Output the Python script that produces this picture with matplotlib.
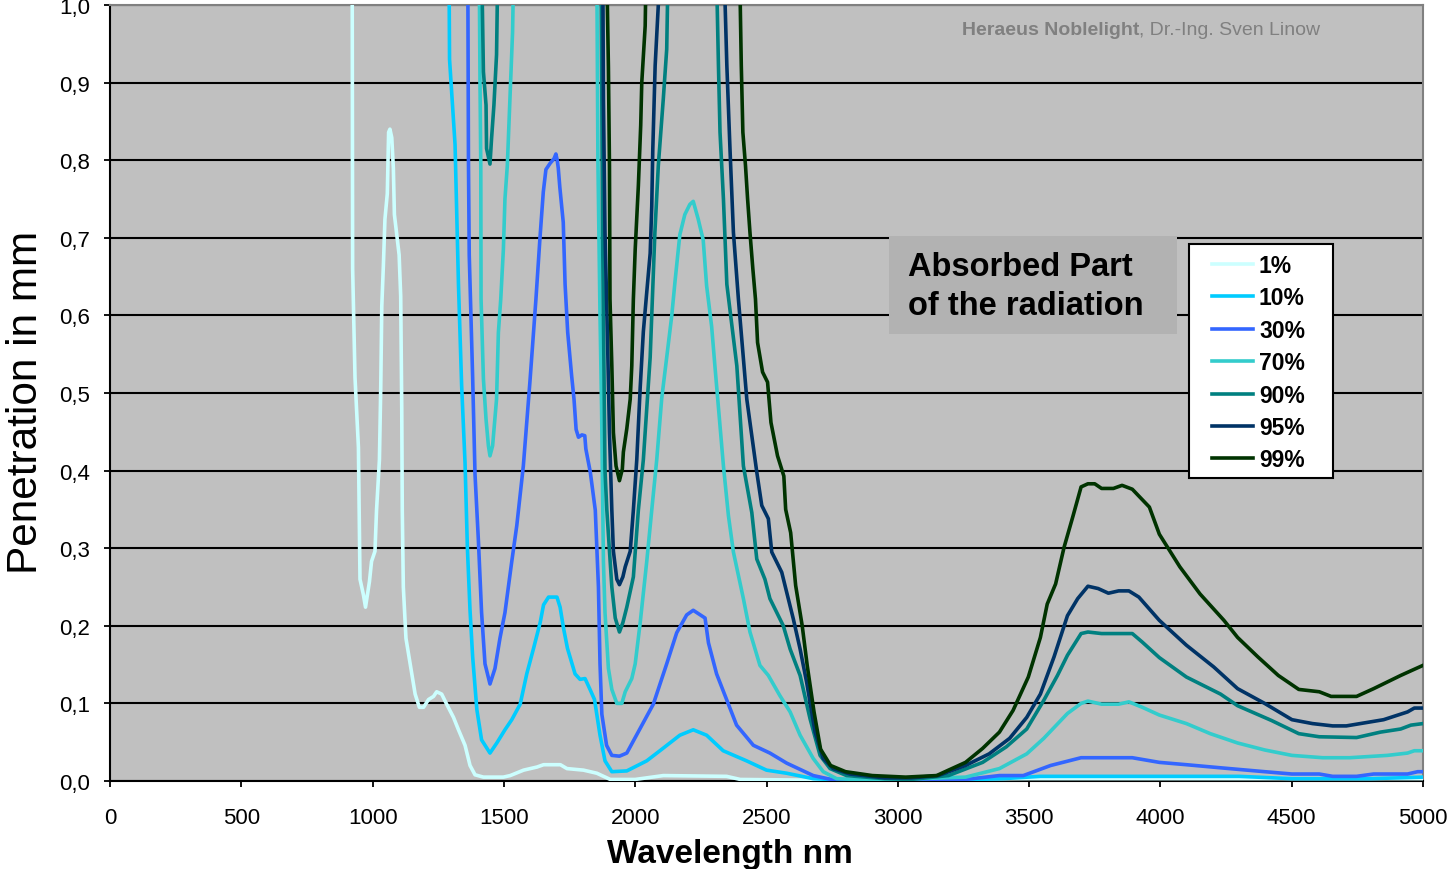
import matplotlib
matplotlib.use("Agg")
import matplotlib.pyplot as plt
from matplotlib.patches import Rectangle
from matplotlib.ticker import FuncFormatter

plt.rcParams['font.family'] = ['Liberation Sans', 'DejaVu Sans']

# absorbed part of the radiation -> penetration depth (mm) over wavelength (nm)
# values above 1.0 run off the top of the chart
labels = ["1%", "10%", "30%", "70%", "90%", "95%", "99%"]
colors = ["#CCFFFF", "#00CCFF", "#3366FF", "#33CCCC", "#008080", "#003366", "#003300"]

wl_1 = [922, 924, 933, 946, 952, 965, 973, 988, 996, 1009, 1015, 1026, 1031, 1035, 1041,
        1047, 1056, 1061, 1066, 1073, 1079, 1083, 1092, 1101, 1107, 1111, 1113, 1117, 1127,
        1143, 1162, 1178, 1194, 1213, 1232, 1244, 1263, 1282, 1308, 1327, 1352, 1371, 1390,
        1422, 1498, 1524, 1575, 1626, 1651, 1715, 1740, 1803, 1854, 1905, 2000, 2107, 2348,
        2400, 2700, 3000, 3500, 5000]
pen_1 = [1.1, 0.66, 0.52, 0.43, 0.26, 0.24, 0.224, 0.257, 0.283, 0.296, 0.349, 0.414, 0.507,
         0.612, 0.664, 0.724, 0.757, 0.836, 0.84, 0.829, 0.79, 0.73, 0.704, 0.678, 0.625, 0.48,
         0.349, 0.25, 0.184, 0.151, 0.112, 0.095, 0.095, 0.105, 0.109, 0.115, 0.112, 0.099,
         0.082, 0.066, 0.046, 0.02, 0.008, 0.005, 0.005, 0.007, 0.014, 0.018, 0.021, 0.021,
         0.016, 0.014, 0.01, 0.002, 0.002, 0.007, 0.006, 0.002, 0.001, 0.002, 0.003, 0.003]

wl_10 = [1290, 1293, 1314, 1327, 1339, 1352, 1361, 1371, 1381, 1397, 1415, 1447, 1473, 1504,
         1530, 1562, 1587, 1613, 1638, 1651, 1670, 1702, 1714, 1727, 1742, 1771, 1790, 1809,
         1828, 1845, 1866, 1885, 1911, 1968, 2044, 2094, 2170, 2221, 2272, 2335, 2424, 2500,
         2577, 2678, 2800, 3200, 3400, 3543, 4300, 4500, 4800, 5000]
pen_10 = [1.1, 0.93, 0.82, 0.64, 0.51, 0.41, 0.30, 0.22, 0.16, 0.092, 0.053, 0.036, 0.049,
          0.066, 0.079, 0.099, 0.138, 0.171, 0.204, 0.227, 0.237, 0.237, 0.224, 0.197, 0.171,
          0.138, 0.131, 0.132, 0.118, 0.105, 0.059, 0.026, 0.012, 0.013, 0.026, 0.039, 0.059,
          0.066, 0.059, 0.039, 0.026, 0.014, 0.01, 0.003, 0.001, 0.001, 0.003, 0.006, 0.006,
          0.003, 0.003, 0.005]

wl_30 = [1362, 1365, 1368, 1381, 1390, 1403, 1415, 1428, 1447, 1466, 1485, 1504, 1530, 1549,
         1574, 1599, 1622, 1637, 1650, 1660, 1676, 1691, 1698, 1703, 1707, 1713, 1726, 1733,
         1743, 1758, 1767, 1775, 1784, 1797, 1808, 1812, 1829, 1848, 1860, 1866, 1873, 1891,
         1911, 1940, 1968, 2000, 2069, 2120, 2158, 2196, 2221, 2266, 2279, 2310, 2348, 2386,
         2450, 2513, 2577, 2678, 2760, 3100, 3258, 3387, 3478, 3582, 3698, 3893, 3996, 4099,
         4229, 4397, 4501, 4605, 4656, 4747, 4812, 4941, 4980, 5000]
pen_30 = [1.1, 0.80, 0.678, 0.52, 0.395, 0.309, 0.217, 0.151, 0.125, 0.145, 0.184, 0.217,
          0.283, 0.329, 0.406, 0.514, 0.621, 0.698, 0.759, 0.788, 0.796, 0.802, 0.808, 0.80,
          0.79, 0.765, 0.72, 0.64, 0.578, 0.522, 0.492, 0.453, 0.443, 0.446, 0.445, 0.428,
          0.398, 0.349, 0.25, 0.151, 0.086, 0.046, 0.033, 0.032, 0.036, 0.056, 0.099, 0.151,
          0.191, 0.214, 0.22, 0.21, 0.178, 0.138, 0.105, 0.072, 0.046, 0.036, 0.023, 0.007,
          0.001, 0.001, 0.002, 0.007, 0.007, 0.02, 0.03, 0.03, 0.024, 0.021, 0.017, 0.012,
          0.009, 0.009, 0.006, 0.006, 0.009, 0.009, 0.012, 0.012]

wl_70 = [1405, 1409, 1412, 1413, 1422, 1432, 1441, 1447, 1457, 1472, 1479, 1488, 1498, 1504,
         1513, 1523, 1533, 1540, 1853, 1858, 1866, 1872, 1879, 1885, 1898, 1911, 1930, 1949,
         1962, 1987, 2000, 2019, 2044, 2063, 2082, 2101, 2120, 2139, 2152, 2170, 2189, 2208,
         2221, 2240, 2259, 2272, 2291, 2304, 2336, 2355, 2374, 2412, 2437, 2475, 2507, 2551,
         2590, 2628, 2678, 2716, 2767, 2900, 3258, 3387, 3491, 3556, 3646, 3698, 3724, 3776,
         3841, 3880, 3931, 3996, 4099, 4190, 4294, 4397, 4501, 4618, 4721, 4864, 4941, 4967, 5000]
pen_70 = [1.1, 0.9, 0.793, 0.621, 0.518, 0.466, 0.432, 0.419, 0.432, 0.492, 0.578, 0.621,
          0.685, 0.75, 0.793, 0.879, 0.965, 1.1, 1.1, 0.8, 0.6, 0.48, 0.283, 0.217, 0.145,
          0.118, 0.1, 0.1, 0.115, 0.132, 0.151, 0.204, 0.283, 0.349, 0.414, 0.493, 0.546,
          0.599, 0.645, 0.704, 0.73, 0.743, 0.747, 0.724, 0.697, 0.638, 0.586, 0.533, 0.406,
          0.342, 0.295, 0.235, 0.192, 0.149, 0.136, 0.11, 0.089, 0.059, 0.029, 0.012, 0.003,
          0.001, 0.005, 0.016, 0.035, 0.055, 0.087, 0.1, 0.103, 0.099, 0.099, 0.102, 0.095,
          0.085, 0.074, 0.061, 0.049, 0.04, 0.033, 0.03, 0.03, 0.033, 0.036, 0.039, 0.039]

wl_90 = [1413, 1422, 1432, 1434, 1447, 1453, 1462, 1472, 1479, 1869, 1876, 1885, 1892, 1911,
         1924, 1940, 1953, 1968, 1993, 2012, 2031, 2044, 2057, 2063, 2075, 2088, 2107, 2120,
         2128, 2306, 2317, 2323, 2336, 2349, 2387, 2412, 2444, 2463, 2494, 2513, 2564, 2590,
         2628, 2666, 2704, 2742, 2805, 2950, 3050, 3193, 3323, 3413, 3491, 3556, 3608, 3646,
         3698, 3724, 3776, 3893, 3931, 3996, 4099, 4229, 4294, 4423, 4527, 4605, 4747, 4838,
         4915, 4954, 5000]
pen_90 = [1.1, 0.914, 0.871, 0.815, 0.795, 0.828, 0.871, 0.936, 1.1, 1.1, 0.7, 0.4, 0.349,
          0.25, 0.21, 0.192, 0.204, 0.224, 0.263, 0.349, 0.414, 0.48, 0.546, 0.6, 0.707,
          0.793, 0.879, 0.943, 1.1, 1.1, 0.922, 0.836, 0.75, 0.64, 0.535, 0.406, 0.346,
          0.286, 0.26, 0.235, 0.2, 0.17, 0.136, 0.08, 0.033, 0.016, 0.007, 0.003, 0.002,
          0.007, 0.024, 0.044, 0.067, 0.104, 0.136, 0.162, 0.19, 0.192, 0.19, 0.19, 0.179,
          0.159, 0.134, 0.112, 0.097, 0.078, 0.061, 0.057, 0.056, 0.063, 0.067, 0.072, 0.074]

wl_95 = [1876, 1879, 1885, 1894, 1902, 1911, 1917, 1930, 1940, 1953, 1962, 1981, 1993, 2006,
         2019, 2031, 2044, 2057, 2063, 2067, 2076, 2088, 2092, 2334, 2349, 2361, 2374, 2393,
         2425, 2463, 2482, 2507, 2520, 2558, 2577, 2602, 2628, 2653, 2685, 2716, 2754, 2818,
         2950, 3050, 3154, 3258, 3348, 3426, 3491, 3543, 3595, 3646, 3685, 3724, 3763, 3802,
         3841, 3880, 3918, 3996, 4099, 4203, 4294, 4397, 4501, 4579, 4656, 4708, 4850, 4941,
         4967, 5000]
pen_95 = [1.1, 0.879, 0.707, 0.578, 0.449, 0.349, 0.296, 0.26, 0.253, 0.263, 0.276, 0.296,
          0.349, 0.414, 0.507, 0.579, 0.63, 0.68, 0.74, 0.814, 0.922, 1.0, 1.1, 1.1, 0.922,
          0.814, 0.707, 0.621, 0.492, 0.398, 0.355, 0.338, 0.295, 0.269, 0.243, 0.209, 0.17,
          0.127, 0.063, 0.029, 0.016, 0.009, 0.004, 0.004, 0.007, 0.02, 0.035, 0.055, 0.082,
          0.112, 0.16, 0.213, 0.235, 0.251, 0.248, 0.242, 0.245, 0.245, 0.237, 0.207, 0.175,
          0.147, 0.119, 0.1, 0.079, 0.074, 0.071, 0.071, 0.079, 0.089, 0.094, 0.094]

wl_99 = [1889, 1898, 1902, 1904, 1911, 1917, 1927, 1940, 1951, 1955, 1968, 1981, 1987, 1993,
         2000, 2012, 2021, 2025, 2038, 2044, 2395, 2404, 2410, 2420, 2428, 2437, 2448, 2458,
         2466, 2485, 2504, 2517, 2542, 2566, 2573, 2592, 2611, 2636, 2655, 2681, 2706, 2744,
         2801, 2903, 3030, 3148, 3193, 3258, 3323, 3387, 3439, 3497, 3543, 3569, 3601, 3633,
         3666, 3698, 3724, 3750, 3776, 3821, 3854, 3893, 3958, 3996, 4074, 4151, 4242, 4294,
         4371, 4449, 4527, 4605, 4650, 4747, 4812, 4915, 4954, 5000]
pen_99 = [1.1, 0.92, 0.793, 0.621, 0.535, 0.449, 0.406, 0.387, 0.402, 0.424, 0.454, 0.492,
          0.535, 0.621, 0.685, 0.767, 0.845, 0.9, 0.973, 1.1, 1.1, 0.922, 0.836, 0.793, 0.75,
          0.707, 0.66, 0.621, 0.565, 0.527, 0.514, 0.462, 0.419, 0.393, 0.35, 0.32, 0.252,
          0.2, 0.149, 0.089, 0.041, 0.02, 0.012, 0.007, 0.005, 0.007, 0.014, 0.024, 0.042,
          0.063, 0.091, 0.134, 0.185, 0.228, 0.254, 0.301, 0.34, 0.379, 0.383, 0.383, 0.377,
          0.377, 0.381, 0.376, 0.353, 0.318, 0.276, 0.241, 0.207, 0.185, 0.16, 0.136, 0.118,
          0.115, 0.109, 0.109, 0.119, 0.136, 0.142, 0.149]

series = [(wl_1, pen_1), (wl_10, pen_10), (wl_30, pen_30), (wl_70, pen_70),
          (wl_90, pen_90), (wl_95, pen_95), (wl_99, pen_99)]

W, H = 1452, 870
fig = plt.figure(figsize=(W / 100, H / 100), dpi=100)
ax = fig.add_axes([110 / W, 1 - 782 / H, 1313 / W, 776 / H])
ax.set_facecolor("#C0C0C0")

lines = []
for (x, y), lab, c in zip(series, labels, colors):
    ln, = ax.plot(x, y, color=c, lw=2.6, label=lab, solid_joinstyle="round", zorder=3)
    lines.append(ln)

ax.set_xlim(0, 5000)
ax.set_ylim(0, 1)
ax.set_xticks(range(0, 5001, 500))
ax.set_yticks([i / 10 for i in range(11)])
ax.yaxis.set_major_formatter(FuncFormatter(lambda v, p: f"{v:.1f}".replace(".", ",")))
ax.yaxis.grid(True, color="black", lw=1.5)
ax.set_axisbelow(True)
ax.tick_params(direction="out", length=4.5, width=1.3, labelsize=16)
ax.tick_params(axis="y", pad=10)
ax.tick_params(axis="x", pad=14)
for s in ["left", "bottom"]:
    ax.spines[s].set_color("black")
    ax.spines[s].set_linewidth(1.5)
for s in ["top", "right"]:
    ax.spines[s].set_color("#808080")
    ax.spines[s].set_linewidth(1.5)

fig.text(0.018, 0.538, "Penetration in mm", rotation=90, fontsize=30.5, ha="center", va="center")
fig.text(730 / W, 1 - 855 / H, "Wavelength nm", fontsize=24, weight="bold", ha="center", va="center")

# watermark
ax.text(0.7837, 0.968, "Heraeus Noblelight", transform=ax.transAxes, color="#808080",
        fontsize=14, weight="bold", ha="right", va="center")
ax.text(0.7837, 0.968, ", Dr.-Ing. Sven Linow", transform=ax.transAxes, color="#808080",
        fontsize=14, ha="left", va="center")

# annotation box
ax.add_patch(Rectangle((0.5933, 0.576), 0.2193, 0.1263, transform=ax.transAxes,
                       facecolor="#B2B2B2", edgecolor="none", zorder=2.5))
ax.text(0.6078, 0.638, "Absorbed Part\nof the radiation", transform=ax.transAxes,
        fontsize=23.5, weight="bold", ha="left", va="center", linespacing=1.3, zorder=2.6)

# legend with its own frame
ax.add_patch(Rectangle((0.8218, 0.3905), 0.1097, 0.3015, transform=ax.transAxes,
                       facecolor="white", edgecolor="black", lw=1.5, zorder=4.5))
leg = ax.legend(handles=lines, loc="upper left", bbox_to_anchor=(0.8393, 0.679),
                frameon=False, borderpad=0, borderaxespad=0, handlelength=1.79,
                handletextpad=0.26, labelspacing=0.41,
                prop={"weight": "bold", "size": 16.5})
leg.set_zorder(5)

fig.savefig("out.png", dpi=100)
